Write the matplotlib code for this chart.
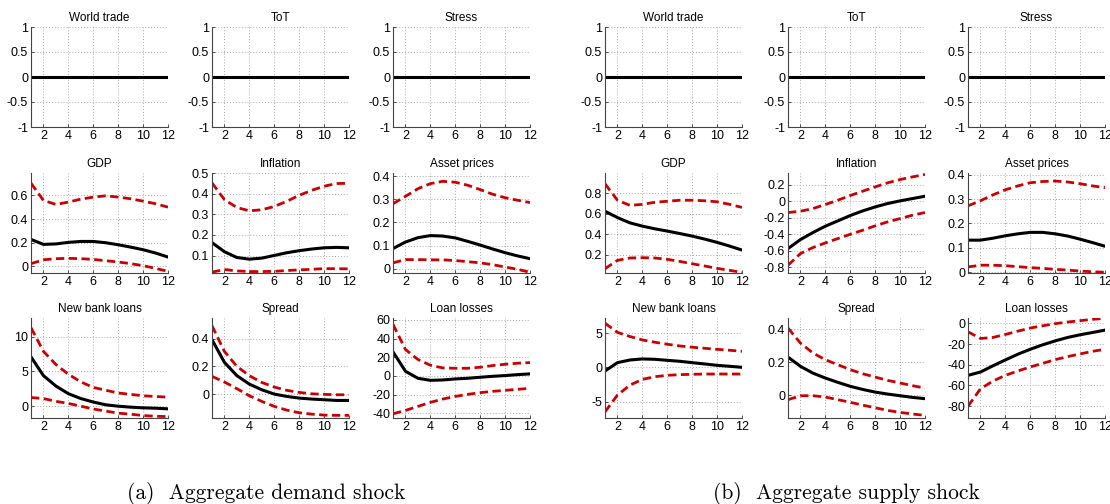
import numpy as np
import matplotlib
matplotlib.use('Agg')
import matplotlib.pyplot as plt
from matplotlib.ticker import FormatStrFormatter

plt.rcParams['font.family'] = ['Liberation Sans', 'DejaVu Sans']
plt.rcParams['axes.unicode_minus'] = False

horizon = np.arange(1, 13)
titles = ['World trade', 'ToT', 'Stress',
          'GDP', 'Inflation', 'Asset prices',
          'New bank loans', 'Spread', 'Loan losses']

zero = [0.0] * 12

# (a) aggregate demand shock: median, lower band, upper band
a_gdp_med = [0.228, 0.186, 0.19, 0.203, 0.211, 0.211, 0.2, 0.183, 0.163, 0.141, 0.113, 0.079]
a_gdp_lo = [0.023, 0.056, 0.065, 0.068, 0.065, 0.059, 0.048, 0.037, 0.023, 0.006, -0.017, -0.042]
a_gdp_hi = [0.704, 0.558, 0.524, 0.544, 0.569, 0.586, 0.597, 0.586, 0.572, 0.552, 0.53, 0.501]

a_inf_med = [0.163, 0.119, 0.091, 0.083, 0.088, 0.101, 0.114, 0.124, 0.132, 0.138, 0.14, 0.138]
a_inf_lo = [0.02, 0.033, 0.026, 0.023, 0.023, 0.024, 0.028, 0.031, 0.034, 0.037, 0.037, 0.036]
a_inf_hi = [0.452, 0.371, 0.333, 0.317, 0.322, 0.338, 0.363, 0.392, 0.416, 0.436, 0.449, 0.45]

a_ast_med = [0.087, 0.115, 0.134, 0.143, 0.141, 0.133, 0.118, 0.102, 0.085, 0.069, 0.055, 0.043]
a_ast_lo = [0.025, 0.039, 0.039, 0.038, 0.038, 0.035, 0.03, 0.025, 0.017, 0.007, -0.003, -0.016]
a_ast_hi = [0.281, 0.313, 0.346, 0.368, 0.378, 0.374, 0.361, 0.342, 0.322, 0.307, 0.296, 0.286]

a_nbl_med = [7.1, 4.4, 2.9, 1.8, 1.1, 0.6, 0.2, 0.0, -0.14, -0.24, -0.29, -0.38]
a_nbl_lo = [1.25, 1.1, 0.7, 0.4, 0.0, -0.4, -0.7, -1.0, -1.15, -1.35, -1.45, -1.5]
a_nbl_hi = [11.3, 7.9, 6.0, 4.6, 3.5, 2.7, 2.3, 1.9, 1.7, 1.5, 1.4, 1.3]

a_spr_med = [0.393, 0.229, 0.133, 0.072, 0.031, 0.0, -0.017, -0.029, -0.036, -0.041, -0.046, -0.046]
a_spr_lo = [0.128, 0.087, 0.039, -0.012, -0.053, -0.089, -0.116, -0.135, -0.145, -0.152, -0.154, -0.154]
a_spr_hi = [0.494, 0.308, 0.2, 0.133, 0.084, 0.051, 0.027, 0.012, 0.002, -0.002, -0.005, -0.005]

a_ll_med = [25.8, 5.0, -2.5, -4.7, -4.3, -3.2, -2.5, -1.4, -0.4, 0.4, 1.4, 2.2]
a_ll_lo = [-40.5, -36.9, -32.6, -28.3, -24.7, -21.9, -19.7, -17.9, -16.5, -15.4, -14.3, -13.3]
a_ll_hi = [55.2, 28.3, 17.6, 11.5, 8.6, 8.2, 8.2, 9.3, 11.1, 12.5, 13.6, 14.3]

# (b) aggregate supply shock
b_gdp_med = [0.623, 0.561, 0.51, 0.478, 0.452, 0.43, 0.406, 0.381, 0.352, 0.32, 0.284, 0.245]
b_gdp_lo = [0.064, 0.145, 0.168, 0.171, 0.168, 0.155, 0.135, 0.112, 0.09, 0.067, 0.048, 0.028]
b_gdp_hi = [0.89, 0.73, 0.68, 0.69, 0.71, 0.72, 0.73, 0.73, 0.725, 0.715, 0.69, 0.66]

b_inf_med = [-0.573, -0.464, -0.379, -0.302, -0.238, -0.173, -0.117, -0.069, -0.028, 0.004, 0.032, 0.06]
b_inf_lo = [-0.774, -0.633, -0.56, -0.504, -0.452, -0.4, -0.351, -0.298, -0.25, -0.21, -0.169, -0.137]
b_inf_hi = [-0.137, -0.121, -0.089, -0.04, 0.012, 0.069, 0.121, 0.173, 0.222, 0.262, 0.294, 0.323]

b_ast_med = [0.131, 0.131, 0.139, 0.149, 0.157, 0.163, 0.163, 0.157, 0.148, 0.135, 0.121, 0.106]
b_ast_lo = [0.021, 0.028, 0.028, 0.026, 0.022, 0.018, 0.015, 0.011, 0.008, 0.004, 0.001, -0.001]
b_ast_hi = [0.272, 0.293, 0.317, 0.338, 0.354, 0.367, 0.372, 0.374, 0.37, 0.363, 0.354, 0.347]

b_nbl_med = [-0.54, 0.68, 1.07, 1.22, 1.17, 1.02, 0.88, 0.68, 0.49, 0.29, 0.15, 0.0]
b_nbl_lo = [-6.5, -4.05, -2.6, -1.76, -1.37, -1.17, -1.07, -1.02, -0.98, -0.98, -0.98, -0.98]
b_nbl_hi = [6.44, 5.1, 4.5, 4.0, 3.66, 3.37, 3.12, 2.93, 2.78, 2.63, 2.49, 2.34]

b_spr_med = [0.23, 0.174, 0.133, 0.103, 0.077, 0.053, 0.034, 0.018, 0.006, -0.004, -0.014, -0.022]
b_spr_lo = [-0.028, -0.004, -0.004, -0.012, -0.028, -0.044, -0.061, -0.077, -0.093, -0.105, -0.115, -0.123]
b_spr_hi = [0.406, 0.315, 0.255, 0.214, 0.184, 0.154, 0.129, 0.109, 0.089, 0.073, 0.057, 0.042]

b_ll_med = [-50.2, -47.0, -41.0, -35.3, -29.8, -25.0, -20.7, -16.9, -13.6, -11.0, -8.8, -6.5]
b_ll_lo = [-80.0, -63.2, -55.7, -50.2, -46.0, -42.1, -38.6, -35.0, -32.1, -29.5, -27.0, -25.0]
b_ll_hi = [-8.1, -14.6, -13.6, -10.7, -7.5, -4.5, -2.3, -0.3, 1.3, 2.6, 3.9, 4.9]

panel_a = [(zero, None, None), (zero, None, None), (zero, None, None),
           (a_gdp_med, a_gdp_lo, a_gdp_hi), (a_inf_med, a_inf_lo, a_inf_hi), (a_ast_med, a_ast_lo, a_ast_hi),
           (a_nbl_med, a_nbl_lo, a_nbl_hi), (a_spr_med, a_spr_lo, a_spr_hi), (a_ll_med, a_ll_lo, a_ll_hi)]
panel_b = [(zero, None, None), (zero, None, None), (zero, None, None),
           (b_gdp_med, b_gdp_lo, b_gdp_hi), (b_inf_med, b_inf_lo, b_inf_hi), (b_ast_med, b_ast_lo, b_ast_hi),
           (b_nbl_med, b_nbl_lo, b_nbl_hi), (b_spr_med, b_spr_lo, b_spr_hi), (b_ll_med, b_ll_lo, b_ll_hi)]

flat_ticks = [-1, -0.5, 0, 0.5, 1]
a_limits = [(-1, 1), (-1, 1), (-1, 1),
            (-0.056, 0.79), (0.016, 0.5), (-0.019, 0.414),
            (-1.7, 12.7), (-0.173, 0.55), (-45, 62)]
a_yticks = [flat_ticks, flat_ticks, flat_ticks,
            [0, 0.2, 0.4, 0.6], [0.1, 0.2, 0.3, 0.4, 0.5], [0, 0.1, 0.2, 0.3, 0.4],
            [0, 5, 10], [0, 0.2, 0.4], [-40, -20, 0, 20, 40, 60]]
b_limits = [(-1, 1), (-1, 1), (-1, 1),
            (0.022, 0.995), (-0.868, 0.341), (-0.004, 0.407),
            (-7.4, 7.2), (-0.139, 0.467), (-91.4, 5.2)]
b_yticks = [flat_ticks, flat_ticks, flat_ticks,
            [0.2, 0.4, 0.6, 0.8], [-0.8, -0.6, -0.4, -0.2, 0, 0.2], [0, 0.1, 0.2, 0.3, 0.4],
            [-5, 0, 5], [0, 0.2, 0.4], [-80, -60, -40, -20, 0]]

W, H = 1110, 504
fig = plt.figure(figsize=(W / 100, H / 100), dpi=100)

col_left = {'a': [31, 212, 393], 'b': [605, 788, 968]}
row_top = [27, 173, 318]
ax_w, ax_h = 137, 100
red = '#cc0000'


def draw_panel(key, series, limits, yticks):
    for i, (med, lo, hi) in enumerate(series):
        r, c = divmod(i, 3)
        left = col_left[key][c]
        top = row_top[r]
        ax = fig.add_axes([left / W, 1 - (top + ax_h) / H, ax_w / W, ax_h / H])
        ax.grid(True, linestyle=(0, (1, 2)), color='#a8a8a8', linewidth=0.7)
        ax.set_axisbelow(True)
        if lo is not None:
            ax.plot(horizon, hi, color=red, lw=2.0, dashes=(3, 1.6))
            ax.plot(horizon, lo, color=red, lw=2.0, dashes=(3, 1.6))
        ax.plot(horizon, med, color='black', lw=2.2)
        ax.set_xlim(1, 12)
        ax.set_ylim(*limits[i])
        ax.set_xticks([2, 4, 6, 8, 10, 12])
        ax.set_yticks(yticks[i])
        ax.yaxis.set_major_formatter(FormatStrFormatter('%g'))
        ax.set_title(titles[i], fontsize=8.5, pad=4)
        ax.tick_params(direction='in', length=2.5, width=0.6, labelsize=9, pad=2,
                       color='#333333')
        for s in ['top', 'right']:
            ax.spines[s].set_visible(False)
        for s in ['left', 'bottom']:
            ax.spines[s].set_color('#444444')
            ax.spines[s].set_linewidth(0.8)


draw_panel('a', panel_a, a_limits, a_yticks)
draw_panel('b', panel_b, b_limits, b_yticks)

fig.text(266 / W, 1 - 499 / H, '(a)  Aggregate demand shock', family='cmr10',
         fontsize=15.5, ha='center', va='baseline')
fig.text(846 / W, 1 - 499 / H, '(b)  Aggregate supply shock', family='cmr10',
         fontsize=15.5, ha='center', va='baseline')

fig.savefig('out.png', dpi=100)
